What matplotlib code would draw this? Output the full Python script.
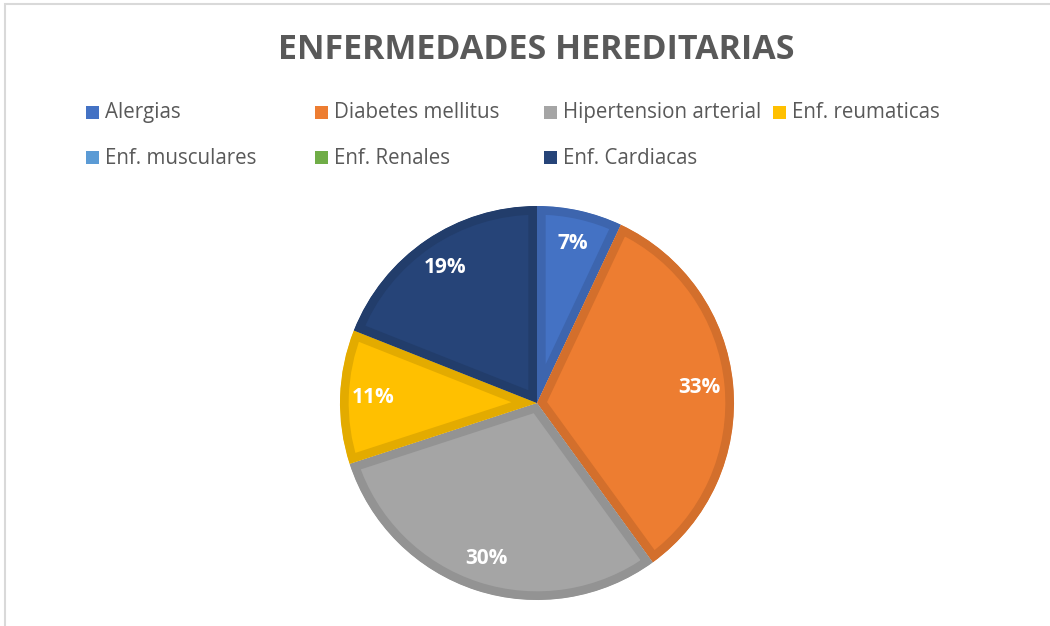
import matplotlib
matplotlib.use("Agg")
import matplotlib.pyplot as plt
from matplotlib.patches import Rectangle
from matplotlib.colors import to_rgb

categories = ["Alergias", "Diabetes mellitus", "Hipertension arterial",
              "Enf. reumaticas", "Enf. musculares", "Enf. Renales",
              "Enf. Cardiacas"]
values = [7, 33, 30, 11, 0, 0, 19]
colors = ["#4472C4", "#ED7D31", "#A5A5A5", "#FFC000",
          "#5B9BD5", "#70AD47", "#264478"]
title = "ENFERMEDADES HEREDITARIAS"

W, H = 1050, 626
fig = plt.figure(figsize=(W / 100, H / 100), dpi=100)
fig.patch.set_facecolor("white")

# chart frame (only top and left edges fall inside the picture)
fig.patches.append(Rectangle((5 / W, -0.1), 1.2, 1 - 4.5 / H + 0.1,
                             transform=fig.transFigure, fill=False,
                             edgecolor="#D9D9D9", linewidth=1.5))

fig.text(536 / W, 1 - 50 / H, title, ha="center", va="center",
         fontsize=24.5, fontweight="bold", color="#595959",
         family="Open Sans")

# legend laid out in fixed-width columns, like the original
col_x = [86, 315, 544, 773]
row_y = [112.5, 158]
for i, (lab, col) in enumerate(zip(categories, colors)):
    x = col_x[i % 4]
    y = row_y[i // 4]
    fig.patches.append(Rectangle((x / W, 1 - (y + 6.5) / H), 13 / W, 13 / H,
                                 transform=fig.transFigure, facecolor=col,
                                 edgecolor="none"))
    fig.text((x + 19) / W, 1 - y / H, lab, ha="left", va="center",
             fontsize=14.8, color="#595959", family="Open Sans")

# pie
cx, cy, r = 537, 403, 197
half = 200
ax = fig.add_axes([(cx - half) / W, 1 - (cy + half) / H, 2 * half / W, 2 * half / H])
lim = half / r

wedges, texts, autotexts = ax.pie(
    values, colors=colors, startangle=90, counterclock=False,
    autopct=lambda p: f"{p:.0f}%" if p > 0 else "", pctdistance=0.83,
    frame=False, radius=1,
    textprops=dict(color="white", fontsize=15, fontweight="bold",
                   family="Open Sans"))
ax.set_xlim(-lim, lim)
ax.set_ylim(-lim, lim)
ax.set_aspect("equal")
ax.axis("off")

# darker inner border on each slice: wide stroke clipped to the slice itself
for w, col in zip(wedges, colors):
    edge = tuple(c * 0.89 for c in to_rgb(col))
    w.set_edgecolor(edge)
    w.set_linewidth(12.5)
    w.set_joinstyle("miter")
    w.set_clip_on(True)
    w.set_clip_path(w)

fig.savefig("out.png", dpi=100, facecolor="white")
